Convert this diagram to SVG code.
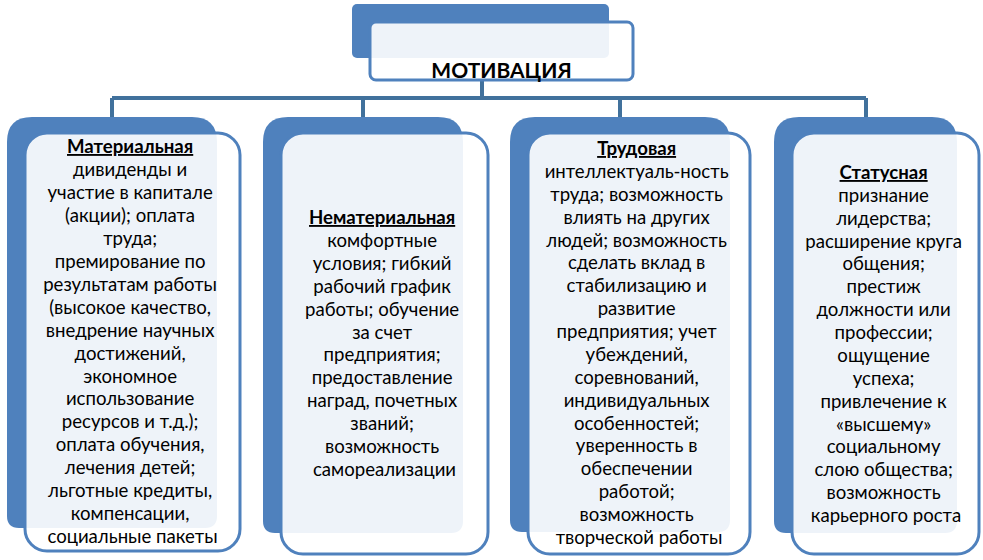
<svg xmlns="http://www.w3.org/2000/svg" width="983" height="560" viewBox="0 0 983 560">
<style>
.back{fill:#4F81BD}
.front{fill:#FFFFFF;fill-opacity:0.9;stroke:#4F81BD;stroke-width:3}
.conn{stroke:#41719C;stroke-width:4;fill:none}
text{font-family:"Lato","Open Sans","Liberation Sans",sans-serif;font-size:18.6px;fill:#000;text-anchor:middle}
.h{font-weight:bold;text-decoration:underline}
.title{font-weight:bold;font-size:21px}
</style>
<rect width="983" height="560" fill="#FFFFFF"/>
<g id="connectors">
<path class="conn" d="M482 80V98M112 98H866M112 98V118M363 98V118M620 98V118M866 98V118"/>
</g>
<g id="title">
<rect class="back" x="352" y="4" width="257" height="54" rx="5"/>
<rect class="front" x="370" y="22" width="263" height="58" rx="6"/>
<text class="title" x="501.5" y="78">МОТИВАЦИЯ</text>
</g>
<g id="node-material">
<path class="back" d="M7 142Q7 117 32 117H192Q217 117 217 142V516Q217 528 205 528H19Q7 528 7 516Z"/>
<rect class="front" x="25" y="133" width="215" height="418" rx="22"/>
<text x="132.5" y="153"><tspan class="h">Материальная</tspan>
<tspan x="132.5" dy="22.95">дивиденды и</tspan>
<tspan x="132.5" dy="22.95">участие в капитале</tspan>
<tspan x="132.5" dy="22.95">(акции); оплата</tspan>
<tspan x="132.5" dy="22.95">труда;</tspan>
<tspan x="132.5" dy="22.95">премирование по</tspan>
<tspan x="132.5" dy="22.95">результатам работы</tspan>
<tspan x="132.5" dy="22.95">(высокое качество,</tspan>
<tspan x="132.5" dy="22.95">внедрение научных</tspan>
<tspan x="132.5" dy="22.95">достижений,</tspan>
<tspan x="132.5" dy="22.95">экономное</tspan>
<tspan x="132.5" dy="22.95">использование</tspan>
<tspan x="132.5" dy="22.95">ресурсов и т.д.);</tspan>
<tspan x="132.5" dy="22.95">оплата обучения,</tspan>
<tspan x="132.5" dy="22.95">лечения детей;</tspan>
<tspan x="132.5" dy="22.95">льготные кредиты,</tspan>
<tspan x="132.5" dy="22.95">компенсации,</tspan>
<tspan x="132.5" dy="22.95">социальные пакеты</tspan></text>
</g>
<g id="node-nonmaterial">
<path class="back" d="M263 142Q263 117 288 117H438Q463 117 463 142V521Q463 533 451 533H275Q263 533 263 521Z"/>
<rect class="front" x="281" y="133" width="207" height="421" rx="22"/>
<text x="384.5" y="224"><tspan class="h">Нематериальная</tspan>
<tspan x="384.5" dy="22.9">комфортные</tspan>
<tspan x="384.5" dy="22.9">условия; гибкий</tspan>
<tspan x="384.5" dy="22.9">рабочий график</tspan>
<tspan x="384.5" dy="22.9">работы; обучение</tspan>
<tspan x="384.5" dy="22.9">за счет</tspan>
<tspan x="384.5" dy="22.9">предприятия;</tspan>
<tspan x="384.5" dy="22.9">предоставление</tspan>
<tspan x="384.5" dy="22.9">наград, почетных</tspan>
<tspan x="384.5" dy="22.9">званий;</tspan>
<tspan x="384.5" dy="22.9">возможность</tspan>
<tspan x="384.5" dy="22.9">самореализации</tspan></text>
</g>
<g id="node-labor">
<path class="back" d="M510 142Q510 117 535 117H705Q730 117 730 142V520Q730 532 718 532H522Q510 532 510 520Z"/>
<rect class="front" x="528" y="133" width="222" height="421" rx="22"/>
<text x="639" y="155"><tspan class="h">Трудовая</tspan>
<tspan x="639" dy="22.88">интеллектуаль-ность</tspan>
<tspan x="639" dy="22.88">труда; возможность</tspan>
<tspan x="639" dy="22.88">влиять на других</tspan>
<tspan x="639" dy="22.88">людей; возможность</tspan>
<tspan x="639" dy="22.88">сделать вклад в</tspan>
<tspan x="639" dy="22.88">стабилизацию и</tspan>
<tspan x="639" dy="22.88">развитие</tspan>
<tspan x="639" dy="22.88">предприятия; учет</tspan>
<tspan x="639" dy="22.88">убеждений,</tspan>
<tspan x="639" dy="22.88">соревнований,</tspan>
<tspan x="639" dy="22.88">индивидуальных</tspan>
<tspan x="639" dy="22.88">особенностей;</tspan>
<tspan x="639" dy="22.88">уверенность в</tspan>
<tspan x="639" dy="22.88">обеспечении</tspan>
<tspan x="639" dy="22.88">работой;</tspan>
<tspan x="639" dy="22.88">возможность</tspan>
<tspan x="639" dy="22.88">творческой работы</tspan></text>
</g>
<g id="node-status">
<path class="back" d="M774 142Q774 117 799 117H932Q957 117 957 142V521Q957 533 945 533H786Q774 533 774 521Z"/>
<rect class="front" x="792" y="133" width="187" height="421" rx="22"/>
<text x="886" y="179"><tspan class="h">Статусная</tspan>
<tspan x="886" dy="22.87">признание</tspan>
<tspan x="886" dy="22.87">лидерства;</tspan>
<tspan x="886" dy="22.87">расширение круга</tspan>
<tspan x="886" dy="22.87">общения;</tspan>
<tspan x="886" dy="22.87">престиж</tspan>
<tspan x="886" dy="22.87">должности или</tspan>
<tspan x="886" dy="22.87">профессии;</tspan>
<tspan x="886" dy="22.87">ощущение</tspan>
<tspan x="886" dy="22.87">успеха;</tspan>
<tspan x="886" dy="22.87">привлечение к</tspan>
<tspan x="886" dy="22.87">«высшему»</tspan>
<tspan x="886" dy="22.87">социальному</tspan>
<tspan x="886" dy="22.87">слою общества;</tspan>
<tspan x="886" dy="22.87">возможность</tspan>
<tspan x="886" dy="22.87">карьерного роста</tspan></text>
</g>
</svg>
